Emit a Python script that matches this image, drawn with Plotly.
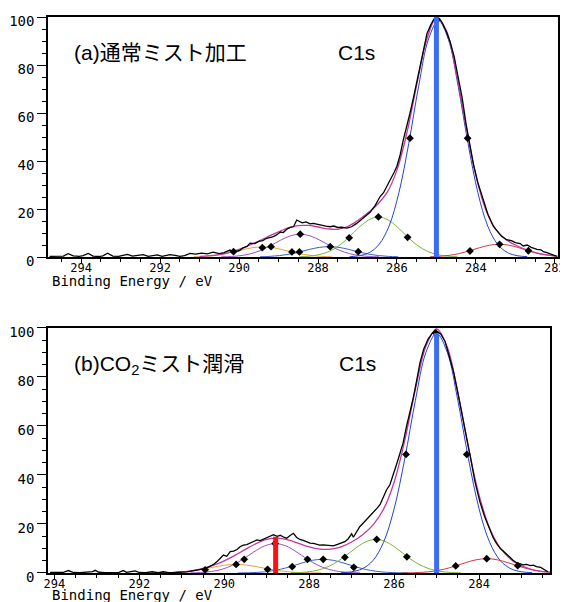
import plotly.graph_objects as go

# ---------------- (a) top panel data ----------------
raw_a_x = [294.8, 294.6, 294.45, 294.33, 294.2, 294.05, 293.95, 293.82, 293.7, 293.55, 293.45, 293.33, 293.2,
           293.05, 292.95, 292.83, 292.7, 292.55, 292.43, 292.3, 292.2, 292.07, 291.95, 291.85, 291.75, 291.62,
           291.5, 291.38, 291.24, 291.1, 290.95, 290.8, 290.66, 290.5, 290.38, 290.23, 290.15, 290.0, 289.9,
           289.8, 289.72, 289.6, 289.5, 289.4, 289.3, 289.2, 289.13, 289.05, 288.95, 288.88, 288.79, 288.7,
           288.62, 288.54, 288.48, 288.4, 288.3, 288.2, 288.12, 288.0, 287.9, 287.8, 287.69, 287.6, 287.5,
           287.4, 287.27, 287.15, 287.02, 286.9, 286.8, 286.68, 286.55, 286.43, 286.34, 286.25, 286.17, 286.08,
           286.0, 285.92, 285.84, 285.75, 285.67, 285.58, 285.5, 285.41, 285.33, 285.24, 285.15, 285.07, 285.0,
           284.93, 284.85, 284.75, 284.65, 284.55, 284.45, 284.35, 284.25, 284.15, 284.06, 283.95, 283.81,
           283.7, 283.56, 283.45, 283.35, 283.22, 283.1, 283.0, 282.88, 282.8, 282.7, 282.6, 282.54, 282.45,
           282.35, 282.29, 282.2, 282.1, 282.0, 281.95]
raw_a_y = [0.3, 0.5, 0.4, 1.4, 0.5, 0.3, 0.6, 1.5, 0.4, 0.2, 0.5, 1.6, 0.4,
           0.3, 0.7, 1.1, 0.4, 0.6, 1.0, 0.3, 0.5, 0.9, 0.3, 0.6, 1.0, 0.7,
           0.3, 0.6, 1.5, 1.2, 1.6, 1.3, 2.0, 1.4, 1.8, 2.9, 2.2, 2.6, 3.8,
           4.4, 5.8, 5.6, 6.5, 6.8, 7.8, 8.2, 8.5, 9.2, 10.4, 10.2, 11.6, 12.3,
           12.6, 15.4, 15.0, 14.2, 14.6, 13.8, 14.0, 13.5, 13.2, 12.9, 12.6, 12.9, 12.3,
           12.4, 12.0, 12.6, 14.0, 15.5, 17.0, 18.6, 21.5, 25.1, 26.8, 29.5, 32.5, 35.0,
           37.8, 42.5, 48.7, 54.3, 59.9, 66.5, 72.5, 79.3, 86.0, 93.0, 96.5, 99.0, 99.6,
           99.4, 97.5, 94.0, 89.5, 83.5, 75.0, 66.5, 55.5, 47.0, 38.5, 31.0, 23.5,
           18.0, 12.8, 10.5, 8.6, 7.2, 6.8, 6.0, 5.6, 4.6, 5.0, 4.0, 3.6, 3.2,
           3.0, 2.2, 1.8, 1.2, 0.6, 0.3]

env_a_x = [291.0, 290.5, 290.0, 289.75, 289.5, 289.25, 289.0, 288.75, 288.5, 288.25, 288.0, 287.75, 287.5,
           287.25, 287.0, 286.75, 286.5, 286.25, 286.0, 285.75, 285.5, 285.25, 285.0, 284.75, 284.5, 284.25,
           284.0, 283.75, 283.5, 283.25, 283.0, 282.75, 282.5, 282.25, 282.0]
env_a_y = [0.2, 0.95, 3.15, 4.8, 6.67, 8.6, 10.5, 12.1, 13.06, 13.16, 12.5, 11.7, 11.55,
           12.7, 15.1, 18.2, 21.8, 26.9, 36.2, 51.6, 71.6, 90.2, 99.5, 94.4, 77.0, 54.3,
           33.9, 19.7, 11.65, 7.43, 5.0, 3.2, 1.86, 0.96, 0.43]

orange_a_x = [291.15, 290.9, 290.65, 290.4, 290.15, 289.9, 289.65, 289.4, 289.15, 288.9, 288.65, 288.4, 288.15, 287.9, 287.65]
orange_a_y = [0.09, 0.24, 0.58, 1.18, 2.06, 3.06, 3.9, 4.2, 3.9, 3.06, 2.06, 1.18, 0.58, 0.24, 0.09]
purple_a_x = [290.45, 290.2, 289.95, 289.7, 289.45, 289.2, 288.95, 288.7, 288.45, 288.2, 287.95, 287.7, 287.45, 287.2, 286.95, 286.7, 286.45]
purple_a_y = [0.07, 0.22, 0.59, 1.39, 2.76, 4.75, 6.98, 8.8, 9.5, 8.8, 6.98, 4.75, 2.76, 1.39, 0.59, 0.22, 0.07]
sblue_a_x = [289.47, 289.22, 288.97, 288.72, 288.47, 288.22, 287.97, 287.72, 287.47, 287.22, 286.97, 286.72, 286.47, 286.22, 285.97]
sblue_a_y = [0.1, 0.26, 0.6, 1.2, 2.1, 3.15, 4.0, 4.3, 4.0, 3.15, 2.1, 1.2, 0.6, 0.26, 0.1]
green_a_x = [288.47, 288.22, 287.97, 287.72, 287.47, 287.22, 286.97, 286.72, 286.47, 286.22, 285.97, 285.72, 285.47, 285.22, 284.97, 284.72, 284.47]
green_a_y = [0.1, 0.35, 1.0, 2.3, 4.7, 8.2, 12.2, 15.4, 16.7, 15.4, 12.2, 8.2, 4.7, 2.3, 1.0, 0.35, 0.1]
blue_a_x = [287.2, 286.95, 286.7, 286.45, 286.2, 285.95, 285.7, 285.45, 285.2, 284.95, 284.7, 284.45, 284.2, 283.95, 283.7, 283.45, 283.2, 282.95, 282.7]
blue_a_y = [0.14, 0.54, 1.84, 5.3, 12.9, 26.8, 47.4, 71.2, 90.8, 98.5, 90.8, 71.2, 47.4, 26.8, 12.9, 5.3, 1.84, 0.54, 0.14]
red_a_x = [285.16, 284.91, 284.66, 284.41, 284.16, 283.91, 283.66, 283.41, 283.16, 282.91, 282.66, 282.41, 282.16, 281.91]
red_a_y = [0.11, 0.31, 0.73, 1.5, 2.6, 3.86, 4.9, 5.3, 4.9, 3.86, 2.6, 1.5, 0.73, 0.31]

mark_a_x = [290.14, 289.41, 289.19, 288.66, 288.47, 288.45, 287.69, 287.21, 286.98, 286.47, 285.73, 285.67, 284.99, 284.21, 284.15, 283.40, 282.67]
mark_a_y = [2.2, 3.9, 4.3, 2.1, 2.1, 9.5, 4.3, 8.0, 2.2, 16.7, 8.2, 49.5, 99.0, 49.5, 2.5, 5.3, 2.6]

bar_a_x = [285.0, 285.0]
bar_a_y = [0, 100]

# ---------------- (b) bottom panel data ----------------
raw_b_x = [294.1, 293.95, 293.8, 293.67, 293.55, 293.4, 293.25, 293.1, 293.04, 292.95, 292.8, 292.65, 292.5,
           292.38, 292.3, 292.2, 292.1, 292.0, 291.85, 291.7, 291.55, 291.44, 291.3, 291.15, 291.0, 290.88,
           290.75, 290.6, 290.45, 290.35, 290.25, 290.15, 290.02, 289.94, 289.86, 289.78, 289.7, 289.62,
           289.55, 289.47, 289.38, 289.3, 289.23, 289.15, 289.08, 289.0, 288.92, 288.84, 288.75, 288.68,
           288.6, 288.53, 288.45, 288.37, 288.3, 288.22, 288.14, 288.06, 287.98, 287.9, 287.8, 287.75,
           287.67, 287.58, 287.5, 287.43, 287.35, 287.25, 287.16, 287.08, 287.0, 286.96, 286.88, 286.81,
           286.72, 286.65, 286.57, 286.49, 286.4, 286.33, 286.26, 286.18, 286.1, 286.02, 285.94, 285.86,
           285.79, 285.71, 285.63, 285.55, 285.47, 285.39, 285.3, 285.2, 285.12, 285.04, 284.98, 284.9,
           284.8, 284.69, 284.6, 284.5, 284.4, 284.29, 284.2, 284.1, 283.98, 283.87, 283.75, 283.67,
           283.59, 283.5, 283.43, 283.35, 283.27, 283.2, 283.12, 283.04, 282.96, 282.88, 282.8, 282.72,
           282.65, 282.55, 282.45, 282.38]
raw_b_y = [0.2, 0.3, 0.2, 1.0, 0.2, 0.1, 0.3, 0.6, 1.1, 0.3, 0.1, 0.2, 0.1,
           1.0, 0.3, 0.6, 0.9, 0.2, 0.1, 0.5, 0.1, 0.5, 0.1, 0.2, 0.3, 0.5,
           0.9, 1.3, 1.8, 2.6, 3.5, 5.0, 7.3, 6.8, 8.7, 8.9, 9.6, 10.8,
           11.4, 11.6, 12.2, 12.9, 13.5, 13.2, 13.7, 14.2, 14.8, 15.6, 15.0, 15.4,
           14.6, 14.2, 15.3, 16.2, 14.6, 13.7, 13.3, 12.8, 12.2, 12.1, 11.6, 11.4,
           11.5, 11.3, 11.2, 11.1, 11.6, 12.2, 12.8, 14.0, 16.0, 14.6, 16.8, 18.9,
           20.5, 21.8, 23.0, 24.4, 26.5, 28.0, 30.5, 33.9, 36.0, 40.0, 44.5, 49.0,
           53.0, 59.7, 65.2, 71.5, 78.5, 86.0, 91.5, 95.5, 97.5, 98.8, 98.5, 97.5,
           94.5, 88.0, 82.0, 73.5, 65.0, 55.6, 47.0, 37.5, 29.0, 23.0, 17.6, 14.5,
           12.1, 10.0, 9.0, 7.6, 6.0, 5.2, 4.2, 3.8, 3.3, 3.5, 3.0, 3.2,
           2.6, 2.3, 1.2, 0.5]

env_b_x = [291.5, 291.25, 291.0, 290.75, 290.5, 290.25, 290.0, 289.75, 289.5, 289.25, 289.0, 288.75, 288.5,
           288.25, 288.0, 287.75, 287.5, 287.25, 287.0, 286.75, 286.5, 286.25, 286.0, 285.75, 285.5, 285.25,
           285.0, 284.75, 284.5, 284.25, 284.0, 283.75, 283.5, 283.25, 283.0, 282.75, 282.5, 282.33]
env_b_y = [0.05, 0.16, 0.43, 0.94, 1.84, 3.17, 4.97, 7.18, 9.64, 12.0, 13.7, 14.23, 13.5,
           12.07, 10.65, 9.75, 9.72, 10.66, 12.65, 15.54, 19.56, 26.0, 37.07, 54.1, 74.9, 92.7,
           99.67, 92.3, 73.7, 51.2, 31.8, 18.3, 10.16, 5.54, 2.91, 1.42, 0.59, 0.3]

orange_b_x = [291.72, 291.47, 291.22, 290.97, 290.72, 290.47, 290.22, 289.97, 289.72, 289.47, 289.22, 288.97, 288.72, 288.47, 288.22, 287.97, 287.72]
orange_b_y = [0.02, 0.06, 0.18, 0.45, 0.94, 1.67, 2.52, 3.22, 3.5, 3.22, 2.52, 1.67, 0.94, 0.45, 0.18, 0.06, 0.02]
purple_b_x = [290.8, 290.55, 290.3, 290.05, 289.8, 289.55, 289.3, 289.05, 288.8, 288.55, 288.3, 288.05, 287.8, 287.55, 287.3, 287.05, 286.8]
purple_b_y = [0.06, 0.21, 0.62, 1.53, 3.22, 5.72, 8.63, 11.05, 12.0, 11.05, 8.63, 5.72, 3.22, 1.53, 0.62, 0.21, 0.06]
sblue_b_x = [289.68, 289.43, 289.18, 288.93, 288.68, 288.43, 288.18, 287.93, 287.68, 287.43, 287.18, 286.93, 286.68, 286.43, 286.18, 285.93, 285.68]
sblue_b_y = [0.03, 0.1, 0.29, 0.72, 1.5, 2.67, 4.03, 5.16, 5.6, 5.16, 4.03, 2.67, 1.5, 0.72, 0.29, 0.1, 0.03]
green_b_x = [288.43, 288.18, 287.93, 287.68, 287.43, 287.18, 286.93, 286.68, 286.43, 286.18, 285.93, 285.68, 285.43, 285.18, 284.93, 284.68, 284.43]
green_b_y = [0.07, 0.24, 0.71, 1.75, 3.67, 6.53, 9.86, 12.62, 13.7, 12.62, 9.86, 6.53, 3.67, 1.75, 0.71, 0.24, 0.07]
blue_b_x = [287.25, 287.0, 286.75, 286.5, 286.25, 286.0, 285.75, 285.5, 285.25, 285.0, 284.75, 284.5, 284.25, 284.0, 283.75, 283.5, 283.25, 283.0, 282.75]
blue_b_y = [0.13, 0.5, 1.73, 5.05, 12.5, 26.2, 46.6, 70.4, 90.1, 97.8, 90.1, 70.4, 46.6, 26.2, 12.5, 5.05, 1.73, 0.5, 0.13]
red_b_x = [285.82, 285.57, 285.32, 285.07, 284.82, 284.57, 284.32, 284.07, 283.82, 283.57, 283.32, 283.07, 282.82, 282.57, 282.32]
red_b_y = [0.03, 0.1, 0.3, 0.75, 1.57, 2.79, 4.21, 5.39, 5.85, 5.39, 4.21, 2.79, 1.57, 0.75, 0.3]

mark_b_x = [290.45, 289.72, 289.53, 288.98, 288.8, 288.40, 288.04, 287.67, 287.16, 286.95, 286.41, 285.70, 285.72, 285.02, 284.29, 284.55, 283.82, 283.09]
mark_b_y = [1.3, 3.5, 5.6, 1.5, 12.0, 2.6, 5.6, 5.6, 6.4, 2.3, 13.7, 6.6, 48.4, 98.0, 48.4, 2.9, 5.85, 3.0]

bar_b_x = [285.0, 285.0]
bar_b_y = [0, 98]
redbar_b_x = [288.79, 288.79]
redbar_b_y = [0, 14.8]

# ---------------- styles ----------------
C_ORANGE = "#e3a43a"
C_PURPLE = "#9a4fc4"
C_SBLUE = "#3a5fc8"
C_GREEN = "#79b53a"
C_BLUE = "#2244cc"
C_RED = "#d23a3a"
C_ENV = "#c2389e"
C_BAR = "#3b6cf5"

fig = go.Figure()


def add_panel(xa, ya, comps, env, raw, marks, bars):
    for (x, y, c) in comps:
        fig.add_trace(go.Scatter(x=x, y=y, mode="lines", line=dict(color=c, width=1, shape="spline"),
                                 xaxis=xa, yaxis=ya, showlegend=False, hoverinfo="skip"))
    fig.add_trace(go.Scatter(x=env[0], y=env[1], mode="lines", line=dict(color=C_ENV, width=1.3, shape="spline"),
                             xaxis=xa, yaxis=ya, showlegend=False))
    fig.add_trace(go.Scatter(x=raw[0], y=raw[1], mode="lines", line=dict(color="black", width=1.3),
                             xaxis=xa, yaxis=ya, showlegend=False))
    fig.add_trace(go.Scatter(x=marks[0], y=marks[1], mode="markers",
                             marker=dict(symbol="diamond", size=6, color="black"),
                             xaxis=xa, yaxis=ya, showlegend=False))
    for (x, y, c) in bars:
        fig.add_trace(go.Scatter(x=x, y=y, mode="lines", line=dict(color=c, width=5),
                                 xaxis=xa, yaxis=ya, showlegend=False))


add_panel("x", "y",
          [(orange_a_x, orange_a_y, C_ORANGE), (purple_a_x, purple_a_y, C_PURPLE),
           (sblue_a_x, sblue_a_y, C_SBLUE), (green_a_x, green_a_y, C_GREEN),
           (blue_a_x, blue_a_y, C_BLUE), (red_a_x, red_a_y, C_RED)],
          (env_a_x, env_a_y), (raw_a_x, raw_a_y), (mark_a_x, mark_a_y),
          [(bar_a_x, bar_a_y, C_BAR)])
add_panel("x2", "y2",
          [(orange_b_x, orange_b_y, C_ORANGE), (purple_b_x, purple_b_y, C_PURPLE),
           (sblue_b_x, sblue_b_y, C_SBLUE), (green_b_x, green_b_y, C_GREEN),
           (blue_b_x, blue_b_y, C_BLUE), (red_b_x, red_b_y, C_RED)],
          (env_b_x, env_b_y), (raw_b_x, raw_b_y), (mark_b_x, mark_b_y),
          [(bar_b_x, bar_b_y, C_BAR), (redbar_b_x, redbar_b_y, "#ff1010")])

xtickfont = dict(family="DejaVu Sans Mono", size=12, color="black")
ytickfont = dict(family="DejaVu Sans Mono", size=14, color="black")
xcommon = dict(showgrid=False, zeroline=False, showline=True, linecolor="black", linewidth=1.5, mirror=True,
               ticks="outside", ticklen=4, tickwidth=1.2, tickcolor="black", dtick=2, tickformat="d",
               tickfont=xtickfont, ticklabelstandoff=-5, automargin=False,
               minor=dict(dtick=0.5, ticks="outside", ticklen=3, tickcolor="black"))
ycommon = dict(showgrid=False, zeroline=False, showline=True, linecolor="black", linewidth=1.5, mirror=True,
               ticks="outside", ticklen=9, tickwidth=1.2, tickcolor="black", range=[0, 100], dtick=20,
               tickfont=ytickfont, ticklabelshift=4, ticklabelstandoff=0, automargin=False,
               minor=dict(dtick=5, ticks="outside", ticklen=4, tickcolor="black"))

# The page body adds an 8px offset; the figure is sized so the plot lands where the reference has it.
fig.update_layout(
    width=560, height=594,
    margin=dict(l=40, r=10, t=9, b=29, autoexpand=False),
    paper_bgcolor="white", plot_bgcolor="white",
    font=dict(family="Liberation Sans, Noto Sans CJK JP", color="black"),
    xaxis=dict(domain=[0, 1], range=[294.84, 281.92], anchor="y", **xcommon),
    yaxis=dict(domain=[0.56835, 1], anchor="x", **ycommon),
    xaxis2=dict(domain=[0, 0.98431], range=[294.15, 282.33], anchor="y2", **xcommon),
    yaxis2=dict(domain=[0, 0.44065], anchor="x2", **ycommon),
)

jp = dict(family="Liberation Sans, Noto Sans CJK JP", size=21, color="black")
mono = dict(family="DejaVu Sans Mono", size=14, color="black")
annots = [
    dict(text="(a)通常ミスト加工", x=0.0471, y=0.9353, xanchor="left", yanchor="middle", font=jp),
    dict(text="C1s", x=0.604, y=0.9353, xanchor="center", yanchor="middle", font=jp),
    dict(text="(b)CO<sub>2</sub>ミスト潤滑", x=0.0471, y=0.3741, xanchor="left", yanchor="middle", font=jp),
    dict(text="C1s", x=0.6078, y=0.3759, xanchor="center", yanchor="middle", font=jp),
    dict(text="Binding Energy / eV", x=0.0039, y=0.5252, xanchor="left", yanchor="middle", font=mono),
    dict(text="Binding Energy / eV", x=0.0039, y=-0.0396, xanchor="left", yanchor="middle", font=mono),
]
for a in annots:
    fig.add_annotation(xref="paper", yref="paper", showarrow=False, **a)

fig.write_html("out.html")
